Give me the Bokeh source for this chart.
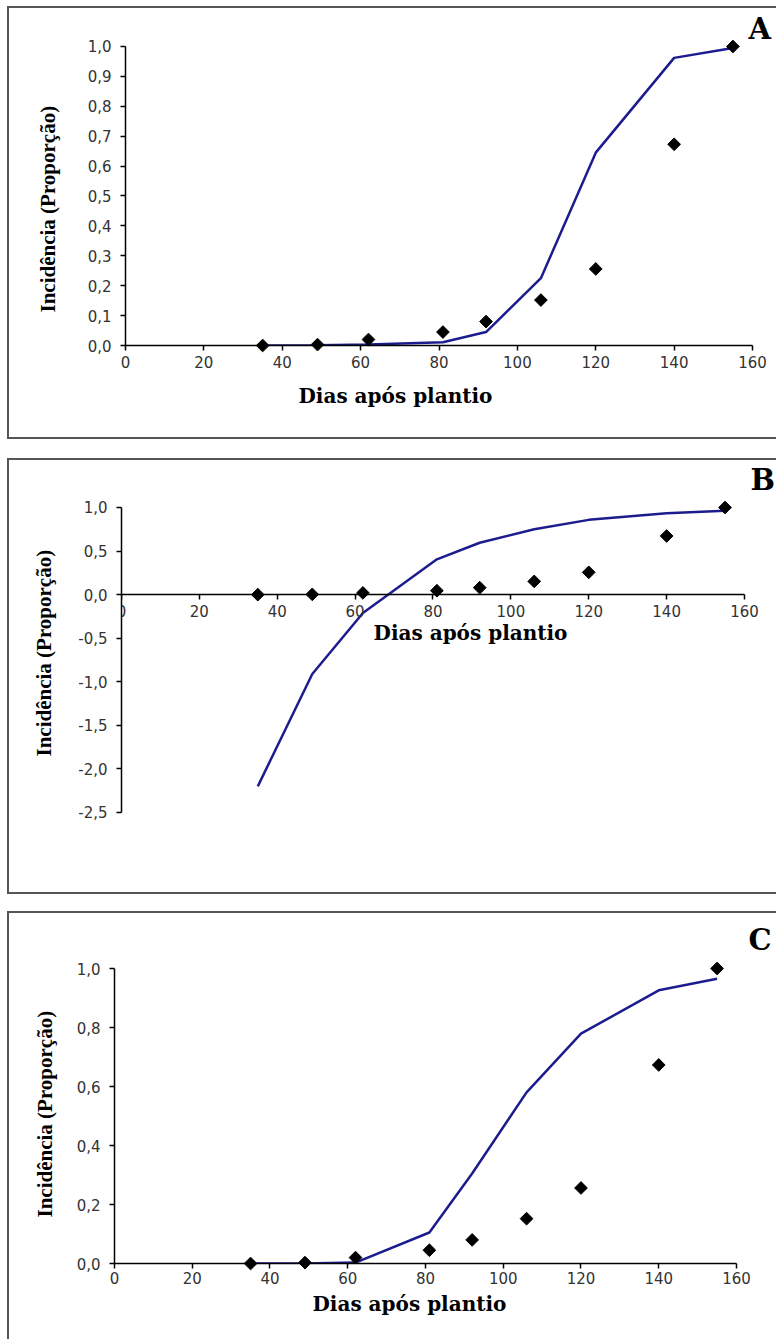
import numpy as np
from bokeh.plotting import figure
from bokeh.models import Range1d, FixedTicker, CustomJSTickFormatter, Label, Title
from bokeh.embed import file_html
from bokeh.resources import INLINE

# Days after planting at each assessment
dias = [35, 49, 62, 81, 92, 106, 120, 140, 155]

# Observed incidence (proportion of diseased plants)
incidencia_obs = [0.0, 0.003, 0.02, 0.045, 0.08, 0.152, 0.256, 0.673, 1.0]

# Fitted curves for the three models
ajuste_a = [0.0, 0.001, 0.003, 0.011, 0.045, 0.225, 0.645, 0.962, 0.995]
ajuste_b = [-2.2, -0.91, -0.21, 0.405, 0.595, 0.75, 0.858, 0.935, 0.962]
ajuste_c = [0.0, 0.0, 0.003, 0.105, 0.305, 0.58, 0.779, 0.926, 0.965]

# Axis ticks
x_ticks = [0, 20, 40, 60, 80, 100, 120, 140, 160]
y_ticks_a = [0.0, 0.1, 0.2, 0.3, 0.4, 0.5, 0.6, 0.7, 0.8, 0.9, 1.0]
y_ticks_b = [-2.5, -2.0, -1.5, -1.0, -0.5, 0.0, 0.5, 1.0]
y_ticks_c = [0.0, 0.2, 0.4, 0.6, 0.8, 1.0]

x_title = "Dias após plantio"
y_title = "Incidência (Proporção)"

EDGE = "#555555"
LINE_COLOR = "#1c1c8e"
SERIF_BOLD = dict(text_font="DejaVu Serif", text_font_style="bold",
                  text_color="black")


def painel(width, height, borders, x_end, y_range, y_bounds, y_ticks, ajuste,
           letra, letra_xy, ytitle, margin, sides,
           xtitle_inside=None, xtitle_below=None, xlabel_standoff=5):
    left, right, top, bottom = borders
    shadows = []
    if "left" in sides:
        shadows.append(f"inset 2px 0 0 0 {EDGE}")
    if "top" in sides:
        shadows.append(f"inset 0 2px 0 0 {EDGE}")
    if "bottom" in sides:
        shadows.append(f"inset 0 -2px 0 0 {EDGE}")
    p = figure(width=width, height=height,
               x_range=Range1d(0, x_end), y_range=Range1d(*y_range),
               output_backend="svg", toolbar_location=None,
               min_border_left=left, min_border_right=right,
               min_border_top=top, min_border_bottom=bottom,
               background_fill_color=None, border_fill_color=None,
               outline_line_color=None, margin=margin,
               styles={"box-shadow": ", ".join(shadows)})
    p.xgrid.visible = False
    p.ygrid.visible = False

    if y_range[0] < 0:
        # the x axis crosses the plot at y = 0
        p.xaxis.fixed_location = 0
    p.xaxis.bounds = (0, 160)
    p.yaxis.bounds = y_bounds
    p.xaxis.ticker = FixedTicker(ticks=x_ticks)
    p.yaxis.ticker = FixedTicker(ticks=y_ticks)
    p.yaxis.formatter = CustomJSTickFormatter(
        code="return tick.toFixed(1).replace('.', ',');")

    for ax in (p.xaxis[0], p.yaxis[0]):
        ax.axis_line_color = "black"
        ax.axis_line_width = 1.5
        ax.major_tick_line_color = "black"
        ax.major_tick_line_width = 1.5
        ax.major_tick_in = 0
        ax.major_tick_out = 5
        ax.minor_tick_line_color = None
        ax.major_label_text_font = "DejaVu Sans"
        ax.major_label_text_font_size = "15px"
        ax.major_label_text_color = "#333333"
    p.yaxis.major_label_standoff = 9
    p.xaxis.major_label_standoff = xlabel_standoff

    # vertical title, placed from the bottom of the frame upwards
    p.add_layout(Title(text=y_title, align="left", offset=ytitle[0],
                       standoff=ytitle[1], text_font="Liberation Serif",
                       text_font_style="bold", text_font_size="21px",
                       text_color="black"), "left")

    p.line(dias, ajuste, line_color=LINE_COLOR, line_width=2.5)
    p.scatter(dias, incidencia_obs, marker="square", angle=np.pi / 4,
              size=9, color="black", level="overlay")

    if xtitle_inside is not None:
        p.add_layout(Label(x=xtitle_inside[0], y=xtitle_inside[1],
                           text=x_title, text_font_size="20px",
                           text_align="center", text_baseline="alphabetic",
                           **SERIF_BOLD))
    if xtitle_below is not None:
        p.add_layout(Title(text=x_title, align="left",
                           offset=xtitle_below[0], standoff=xtitle_below[1],
                           text_font_size="20px", **SERIF_BOLD), "below")
    p.add_layout(Label(x=letra_xy[0], y=letra_xy[1], text=letra,
                       text_font_size="29px", text_align="left",
                       text_baseline="alphabetic", **SERIF_BOLD))
    return p


pa = painel(769, 433, (118, 0, 6, 94), 166.12, (0, 1.1137), (0, 1.0),
            y_ticks_a, ajuste_a, "A", (159.0, 1.057), (33, 50),
            (6, 0, 0, 7), ("left", "top", "bottom"),
            xtitle_below=(173, 22))

pb = painel(769, 436, (114, 0, 6, 30), 168.22, (-3.0968, 1.4934), (-2.5, 1.0),
            y_ticks_b, ajuste_b, "B", (161.54, 1.321), (108, 40),
            (19, 0, 0, 7), ("left", "top", "bottom"),
            xtitle_inside=(89.63, -0.445))

pc = painel(769, 428, (107, 0, 6, 76), 170.29, (0, 1.1729), (0, 1.0),
            y_ticks_c, ajuste_c, "C", (163.09, 1.095), (46, 34),
            (17, 0, 0, 7), ("left", "top"),
            xtitle_below=(198, 7), xlabel_standoff=3)

open("out.html", "w").write(file_html([pa, pb, pc], INLINE))
